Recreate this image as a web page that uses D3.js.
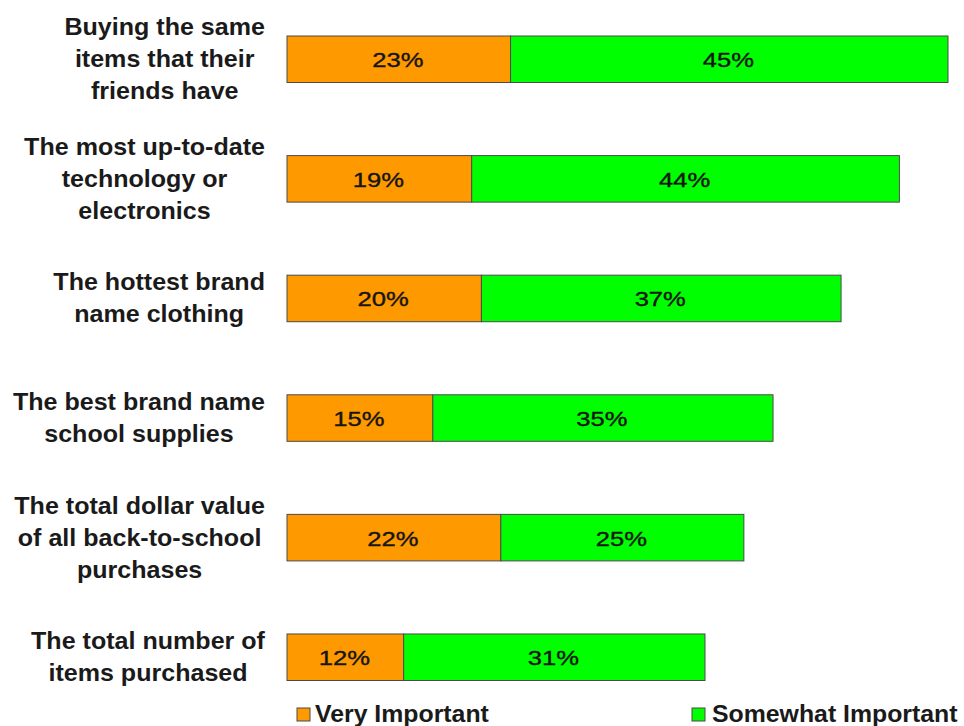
<!DOCTYPE html>
<html>
<head>
<meta charset="utf-8">
<script src="https://cdn.jsdelivr.net/npm/d3@7"></script>
<style>
  html, body { margin: 0; padding: 0; background: #fff; }
  svg { display: block; }
</style>
</head>
<body>
<svg id="chart" width="964" height="726"></svg>
<script>
// Category labels, already wrapped into display lines
const categories = [
  ["Buying the same", "items that their", "friends have"],
  ["The most up-to-date", "technology or", "electronics"],
  ["The hottest brand", "name clothing"],
  ["The best brand name", "school supplies"],
  ["The total dollar value", "of all back-to-school", "purchases"],
  ["The total number of", "items purchased"]
];
const veryImportant     = [23, 19, 20, 15, 22, 12];
const somewhatImportant = [45, 44, 37, 35, 25, 31];
const seriesNames  = ["Very Important", "Somewhat Important"];
const seriesColors = ["#ff9900", "#00ff00"];

const svg = d3.select("#chart");
const font = "'Liberation Sans', Arial, Helvetica, sans-serif";

const x = d3.scaleLinear().domain([0, 68]).range([287, 948]);
const y = d3.scaleBand()
  .domain(d3.range(categories.length))
  .range([36, 680.5])
  .paddingInner(0.611)
  .paddingOuter(0);

// Stacked segments per category
const rows = categories.map((c, i) => ({
  i,
  segs: [
    { s: 0, x0: 0, x1: veryImportant[i], v: veryImportant[i] },
    { s: 1, x0: veryImportant[i], x1: veryImportant[i] + somewhatImportant[i], v: somewhatImportant[i] }
  ]
}));

const g = svg.append("g");
const rowG = g.selectAll("g.row").data(rows).join("g").attr("class", "row");

rowG.selectAll("rect")
  .data(d => d.segs.map(s => ({ ...s, i: d.i })))
  .join("rect")
  .attr("x", d => x(d.x0))
  .attr("y", d => y(d.i))
  .attr("width", d => x(d.x1) - x(d.x0))
  .attr("height", y.bandwidth())
  .attr("fill", d => seriesColors[d.s])
  .attr("stroke", "#4a4a4a")
  .attr("stroke-width", 1);

// Value labels centred in each segment
const valueScaleX = 1.28;
rowG.selectAll("text.val")
  .data(d => d.segs.map(s => ({ ...s, i: d.i })))
  .join("text")
  .attr("class", "val")
  .attr("transform", d => `translate(${(x(d.x0) + x(d.x1)) / 2 - 1},${y(d.i) + y.bandwidth() / 2 + 8}) scale(${valueScaleX},1)`)
  .attr("text-anchor", "middle")
  .attr("font-family", font)
  .attr("font-size", 20)
  .attr("fill", "#151515")
  .attr("stroke", "#151515")
  .attr("stroke-width", 0.35)
  .text(d => d.v + "%");

// Category labels: each block is centred text, right-aligned against the bars
const labelScaleX = 1.09;
const labelRight = 265;
const lineGap = 32;
const labelG = svg.append("g");
categories.forEach((lines, i) => {
  const cy = y(i) + y.bandwidth() / 2;
  const block = labelG.append("g");
  const texts = block.selectAll("text").data(lines).join("text")
    .attr("text-anchor", "middle")
    .attr("font-family", font)
    .attr("font-weight", "bold")
    .attr("font-size", 23)
    .attr("fill", "#1a1a1a")
    .text(d => d);
  let maxW = 0;
  texts.each(function () { maxW = Math.max(maxW, this.getComputedTextLength() * labelScaleX); });
  const cx = labelRight - maxW / 2;
  texts.attr("transform", (d, k) =>
    `translate(${cx},${cy + (k - (lines.length - 1) / 2) * lineGap + 8}) scale(${labelScaleX},1)`);
});

// Legend
const legendItems = [
  { name: seriesNames[0], color: seriesColors[0], sx: 297, tx: 315 },
  { name: seriesNames[1], color: seriesColors[1], sx: 692, tx: 712 }
];
const leg = svg.append("g").selectAll("g").data(legendItems).join("g");
leg.append("rect")
  .attr("x", d => d.sx).attr("y", 708)
  .attr("width", 13).attr("height", 13)
  .attr("fill", d => d.color)
  .attr("stroke", "#4a4a4a").attr("stroke-width", 1);
leg.append("text")
  .attr("transform", d => `translate(${d.tx},722) scale(1.08,1)`)
  .attr("font-family", font)
  .attr("font-weight", "bold")
  .attr("font-size", 23)
  .attr("fill", "#1a1a1a")
  .text(d => d.name);
</script>
</body>
</html>
